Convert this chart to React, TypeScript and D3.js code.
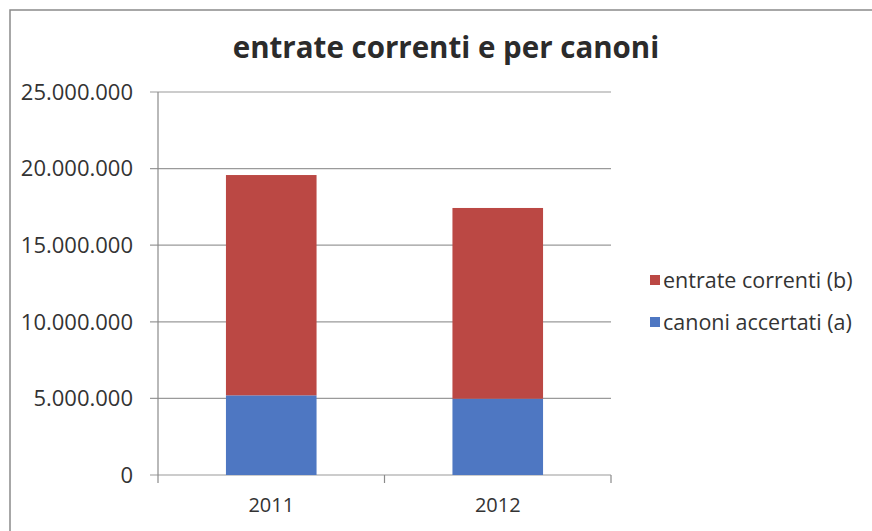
import React from "react";
import * as d3 from "d3";

const categories = ["2011", "2012"];
const canoniAccertati = [5200000, 4980000];
const entrateCorrenti = [14380000, 12450000];
const yTicks = [0, 5000000, 10000000, 15000000, 20000000, 25000000];
const seriesNames = ["entrate correnti (b)", "canoni accertati (a)"];
const colors = { red: "#bb4844", blue: "#4e77c2" };

const W = 872, H = 531;
const plot = { left: 158, right: 611, top: 92, bottom: 475 };

const fmt = (v: number) => d3.format(",")(v).replace(/,/g, ".");

export default function App() {
  const x = d3.scaleBand<string>().domain(categories).range([plot.left, plot.right]).paddingInner(0.6).paddingOuter(0.3);
  const y = d3.scaleLinear().domain([0, 25000000]).range([plot.bottom, plot.top]);
  const font = "'Open Sans', sans-serif";
  const stack = categories.map((c, i) => ({ c, a: canoniAccertati[i], b: entrateCorrenti[i] }));
  const step = (plot.right - plot.left) / categories.length;
  return (
    <svg width={W} height={H} style={{ position: "absolute", left: 0, top: 0, background: "#fff" }}>
      <rect x={10} y={10} width={870} height={540} fill="#fff" stroke="#8a8a8a" strokeWidth={1.5} />
      <text x={446} y={58} textAnchor="middle" fontFamily={font} fontWeight="bold" fontSize={29.5} fill="#2b2b2b">
        entrate correnti e per canoni
      </text>
      {yTicks.map((t) => (
        <g key={t}>
          <line x1={plot.left - 8} x2={plot.right} y1={y(t)} y2={y(t)} stroke="#9a9a9a" strokeWidth={1.2} />
          <text x={133} y={y(t)} dy="0.35em" textAnchor="end" fontFamily={font} fontSize={22} fill="#333">
            {fmt(t)}
          </text>
        </g>
      ))}
      <line x1={plot.left} x2={plot.left} y1={plot.top} y2={plot.bottom} stroke="#8a8a8a" strokeWidth={1.2} />
      {d3.range(categories.length + 1).map((i) => (
        <line key={i} x1={plot.left + i * step} x2={plot.left + i * step} y1={plot.bottom} y2={plot.bottom + 8} stroke="#8a8a8a" strokeWidth={1.2} />
      ))}
      {stack.map((d) => (
        <g key={d.c}>
          <rect x={x(d.c)} width={x.bandwidth()} y={y(d.a)} height={y(0) - y(d.a)} fill={colors.blue} />
          <rect x={x(d.c)} width={x.bandwidth()} y={y(d.a + d.b)} height={y(d.a) - y(d.a + d.b)} fill={colors.red} />
          <text x={(x(d.c) as number) + x.bandwidth() / 2} y={505} dy="0.35em" textAnchor="middle" fontFamily={font} fontSize={20} fill="#333">
            {d.c}
          </text>
        </g>
      ))}
      {seriesNames.map((n, i) => (
        <g key={n} transform={`translate(650, ${280 + i * 42})`}>
          <rect x={0} y={-5} width={10} height={10} fill={i === 0 ? colors.red : colors.blue} />
          <text x={13} y={0} dy="0.35em" fontFamily={font} fontSize={21.5} fill="#333">
            {n}
          </text>
        </g>
      ))}
    </svg>
  );
}
